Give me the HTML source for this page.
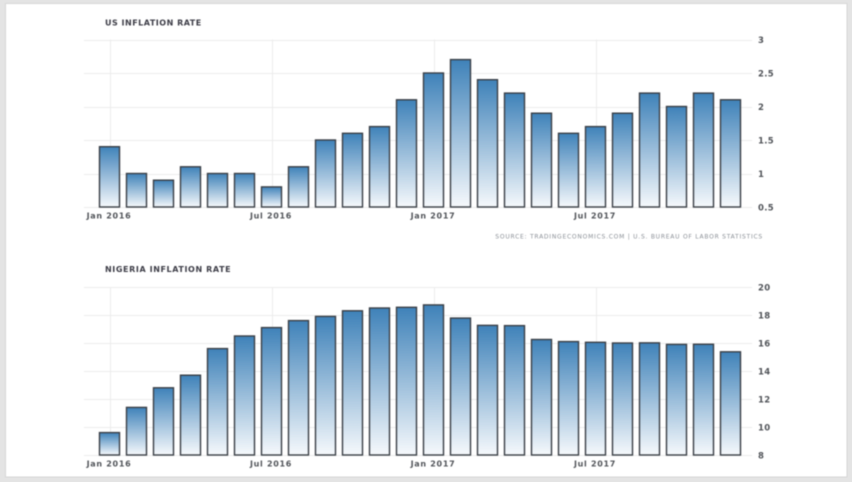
<!DOCTYPE html>
<html>
<head>
<meta charset="utf-8">
<style>
html,body{margin:0;padding:0;background:#e4e4e4;width:852px;height:482px;overflow:hidden}
svg{position:absolute;left:0;top:0;filter:blur(0.45px)}
text{font-family:"DejaVu Sans","Liberation Sans",sans-serif}
</style>
</head>
<body>
<svg id="chart" xmlns="http://www.w3.org/2000/svg" width="852" height="482" viewBox="0 0 852 482">
<defs>
<linearGradient id="bar-fill" x1="0" y1="0" x2="0" y2="1">
<stop offset="0" stop-color="#3f82b9"/>
<stop offset="1" stop-color="#f6f9fc"/>
</linearGradient>
</defs>
<rect x="5.5" y="3.5" width="841.5" height="473.5" fill="#ffffff" stroke="#d6d6d6"/>
<text x="105" y="25.5" font-size="8" font-weight="bold" fill="#3c3c46" letter-spacing="0.5">US INFLATION RATE</text>
<text x="105" y="272" font-size="8" font-weight="bold" fill="#3c3c46" letter-spacing="0.6">NIGERIA INFLATION RATE</text>
<text x="763" y="238.5" text-anchor="end" font-size="6" fill="#8a8f96" letter-spacing="0.75">SOURCE: TRADINGECONOMICS.COM | U.S. BUREAU OF LABOR STATISTICS</text>
</svg>
<script>
const monthLabels = ['Jan 2016','Jul 2016','Jan 2017','Jul 2017'];
const monthLabelIndex = [0,6,12,18];
const usValues = [1.4,1,0.9,1.1,1,1,0.8,1.1,1.5,1.6,1.7,2.1,2.5,2.7,2.4,2.2,1.9,1.6,1.7,1.9,2.2,2,2.2,2.1];
const nigeriaValues = [9.6,11.4,12.8,13.7,15.6,16.5,17.1,17.6,17.9,18.3,18.5,18.55,18.72,17.78,17.26,17.24,16.25,16.1,16.05,16,16.01,15.9,15.91,15.37];
const usTicks = [0.5,1,1.5,2,2.5,3];
const nigeriaTicks = [8,10,12,14,16,18,20];

const svg = document.getElementById('chart');
const NS = 'http://www.w3.org/2000/svg';

function xAxis(i) { return 109.5 + i * 27; }
function makeY(min, max, bottom, top) {
  return function (v) { return bottom - (v - min) / (max - min) * (bottom - top); };
}
function add(tag, attrs, parent) {
  const el = document.createElementNS(NS, tag);
  for (const k in attrs) el.setAttribute(k, attrs[k]);
  (parent || svg).appendChild(el);
  return el;
}
function drawPanel(prefix, values, ticks, yScale, bottom, top) {
  const group = add('g', {});
  
  
  ticks.forEach(function (t) {
    const y = Math.round(yScale(t)) + 0.5;
    const line = add('line', {x1: 84, x2: 752, y1: y, y2: y, stroke: '#ececec', 'stroke-width': 1}, group);
    
    
    const label = add('text', {x: 758, y: yScale(t) + 3.5, 'font-size': 8.5, fill: '#33363c', 'font-weight': 'bold', 'fill-opacity': 0.85, 'letter-spacing': 0.3}, group);
    label.textContent = String(t);
    
    
  });
  monthLabelIndex.forEach(function (idx, n) {
    const x = Math.round(xAxis(idx)) + 0.5;
    const line = add('line', {x1: x, x2: x, y1: top, y2: bottom, stroke: '#ececec', 'stroke-width': 1}, group);
    
    
    const label = add('text', {x: xAxis(idx) - 0.5, y: bottom + 11.5, 'text-anchor': 'middle', 'font-size': 8, fill: '#33363c', 'font-weight': 'bold', 'fill-opacity': 0.85, 'letter-spacing': 0.7}, group);
    label.textContent = monthLabels[n];
    
    
  });
  values.forEach(function (v, i) {
    const y = yScale(v);
    const bar = add('rect', {x: xAxis(i) - 10, y: y, width: 20, height: bottom - y, fill: 'url(#bar-fill)', stroke: '#3a3f46', 'stroke-width': 1.4}, group);
    
    
  });
}
drawPanel('us', usValues, usTicks, makeY(0.5, 3, 207, 39.5), 207, 39.5);
drawPanel('nigeria', nigeriaValues, nigeriaTicks, makeY(8, 20, 455, 287), 455, 287);
</script>
</body>
</html>
